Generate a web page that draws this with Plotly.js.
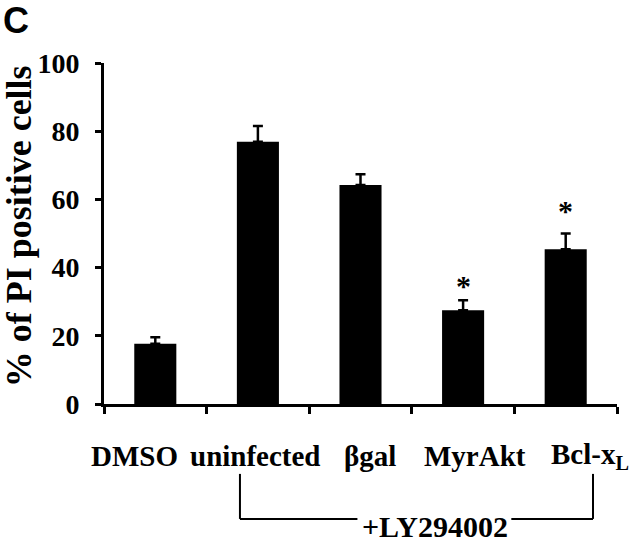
<!DOCTYPE html>
<html>
<head>
<meta charset="utf-8">
<script src="https://cdn.plot.ly/plotly-3.0.1.min.js"></script>
<style>html,body{margin:0;padding:0;background:#fff;}</style>
</head>
<body>
<div id="chart" style="width:640px;height:542px;"></div>
<script>
// ---- data ----
const categories = ['DMSO', 'uninfected', 'βgal', 'MyrAkt', 'Bcl-xL'];
const labelTexts = ['DMSO', 'uninfected', 'βgal', 'MyrAkt', 'Bcl-x<sub>L</sub>'];
const percentPI = [17.7, 76.9, 64.2, 27.5, 45.4];
const errorPlus = [1.9, 4.6, 3.2, 2.9, 4.6];
const errorMinus = [0, 0, 0, 0, 0];
const significant = [false, false, false, true, true];
const starValues = [null, null, null, 35.2, 57.2];
const yTickVals = [0, 20, 40, 60, 80, 100];
const treatmentLabel = '+LY294002';

// ---- styles ----
const serifBold = {family: 'Liberation Serif', color: '#000', weight: 'bold'};
const labelShift = [-21, -2, 9, 12, 24];

const trace = {
  type: 'bar',
  x: categories,
  y: percentPI,
  width: 0.41,
  marker: {color: '#000', line: {width: 0}},
  error_y: {
    type: 'data', symmetric: false, array: errorPlus, arrayminus: errorMinus,
    color: '#000', thickness: 2.5, width: 5
  },
  hoverinfo: 'skip'
};

const annotations = [];
categories.forEach((c, i) => {
  annotations.push({
    x: c, xref: 'x', y: 0, yref: 'paper', yanchor: 'middle', xanchor: 'center',
    yshift: -52, xshift: labelShift[i], showarrow: false,
    text: labelTexts[i], font: Object.assign({size: 29}, serifBold)
  });
  if (significant[i]) {
    annotations.push({
      x: c, xref: 'x', y: starValues[i], yref: 'y', yanchor: 'middle', xanchor: 'center',
      yshift: -2, showarrow: false, text: '*', font: Object.assign({size: 30}, serifBold)
    });
  }
});
annotations.push({
  x: 0.645, xref: 'paper', y: 0, yref: 'paper', yanchor: 'middle', xanchor: 'center',
  yshift: -122, showarrow: false, text: treatmentLabel, font: Object.assign({size: 30}, serifBold)
});
annotations.push({
  x: -0.1725, xref: 'paper', y: 1.126, yref: 'paper', xanchor: 'center', yanchor: 'middle',
  showarrow: false, text: 'C',
  font: {family: 'Liberation Sans', size: 36, color: '#000', weight: 'bold'}
});
// y-axis title placed as an annotation for precise positioning
annotations.push({
  x: -0.166, xref: 'paper', y: 0.5, yref: 'paper', xanchor: 'center', yanchor: 'middle',
  yshift: 7, textangle: -90, showarrow: false, text: '% of PI positive cells',
  font: Object.assign({size: 36}, serifBold)
});

const lineStyle = {color: '#000', width: 2};
const shapes = [
  {type: 'line', xref: 'x', yref: 'paper', x0: 0.825, x1: 0.825, y0: -0.205, y1: -0.337, line: lineStyle},
  {type: 'line', xref: 'x', yref: 'paper', x0: 0.825, x1: 1.97, y0: -0.337, y1: -0.337, line: lineStyle},
  {type: 'line', xref: 'x', yref: 'paper', x0: 3.47, x1: 4.266, y0: -0.337, y1: -0.337, line: lineStyle},
  {type: 'line', xref: 'x', yref: 'paper', x0: 4.266, x1: 4.266, y0: -0.205, y1: -0.337, line: lineStyle}
];

const layout = {
  width: 640, height: 542,
  margin: {l: 104, r: 23, t: 63, b: 138},
  paper_bgcolor: '#fff', plot_bgcolor: '#fff',
  showlegend: false,
  xaxis: {
    type: 'category', range: [-0.5, 4.5], tickson: 'boundaries',
    ticks: 'outside', ticklen: 7, tickwidth: 3, tickcolor: '#000',
    showline: true, linewidth: 3, linecolor: '#000',
    showticklabels: false, showgrid: false, zeroline: false, fixedrange: true
  },
  yaxis: {
    range: [0, 100], tickmode: 'array', tickvals: yTickVals,
    ticks: 'outside', ticklen: 6, tickwidth: 3, tickcolor: '#000',
    ticklabelstandoff: 10,
    showline: true, linewidth: 3, linecolor: '#000',
    showgrid: false, zeroline: false,
    tickfont: Object.assign({size: 28}, serifBold),
    fixedrange: true
  },
  annotations: annotations,
  shapes: shapes
};

Plotly.newPlot('chart', [trace], layout, {staticPlot: true, displayModeBar: false});
</script>
</body>
</html>
